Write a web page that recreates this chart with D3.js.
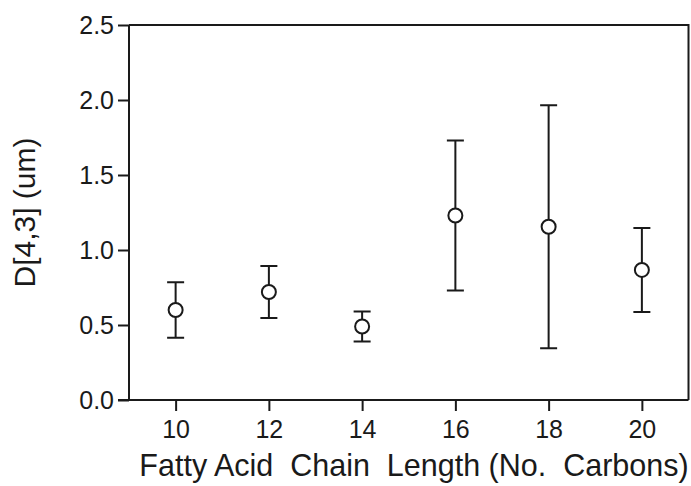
<!DOCTYPE html>
<html>
<head>
<meta charset="utf-8">
<script src="https://cdn.jsdelivr.net/npm/d3@7"></script>
<style>
  html, body { margin: 0; padding: 0; background: #fff; }
  svg { display: block; }
  text { font-family: "Liberation Sans", Arial, sans-serif; fill: #1a1a1a; }
</style>
</head>
<body>
<svg id="chart" width="691" height="486"></svg>
<script>
// Chain length (number of carbons)
const chainLength = [10, 12, 14, 16, 18, 20];
// Mean D[4,3] particle size (um)
const meanSize = [0.60, 0.72, 0.49, 1.23, 1.155, 0.867];
// Error bar half-width (um)
const errSize = [0.185, 0.173, 0.10, 0.50, 0.81, 0.28];
// Axis ticks
const xTicks = [10, 12, 14, 16, 18, 20];
const yTicks = [0.0, 0.5, 1.0, 1.5, 2.0, 2.5];

const data = chainLength.map((c, i) => ({ c, m: meanSize[i], e: errSize[i] }));

const svg = d3.select("#chart");
const ink = "#1a1a1a";
const plotL = 129, plotR = 688.5, plotT = 25, plotB = 400;

const x = d3.scaleLinear().domain([9, 21]).range([plotL, plotR]);
const y = d3.scaleLinear().domain([0, 2.5]).range([plotB, plotT]);

// Frame (top and right edges)
svg.append("path")
  .attr("d", `M${plotL},${plotT}H${plotR}V${plotB}`)
  .attr("fill", "none").attr("stroke", ink).attr("stroke-width", 2);

// Y axis
const yAxis = svg.append("g")
  .attr("transform", `translate(${plotL},0)`)
  .call(d3.axisLeft(y).tickValues(yTicks).tickFormat(d3.format(".1f"))
    .tickSize(11).tickPadding(4).tickSizeOuter(0));

// X axis
const xAxis = svg.append("g")
  .attr("transform", `translate(0,${plotB})`)
  .call(d3.axisBottom(x).tickValues(xTicks).tickFormat(d3.format("d"))
    .tickSize(11).tickPadding(9).tickSizeOuter(0));

[yAxis, xAxis].forEach(g => {
  g.attr("font-size", null).attr("font-family", null);
  g.select(".domain").attr("stroke", ink).attr("stroke-width", 2);
  g.selectAll(".tick line").attr("stroke", ink).attr("stroke-width", 2);
  g.selectAll(".tick text")
    .attr("fill", ink)
    .style("font-family", '"Liberation Sans", Arial, sans-serif')
    .style("font-size", "25px");
});
// Domain lines run the full plot extent
yAxis.select(".domain").attr("d", `M0,${plotB}V${plotT}`);
xAxis.select(".domain").attr("d", `M${plotL - 11},0H${plotR}`);

// Axis titles
svg.append("text")
  .attr("x", 414).attr("y", 476)
  .attr("text-anchor", "middle")
  .style("font-size", "30.5px")
  .style("white-space", "pre")
  .text("Fatty Acid  Chain  Length (No.  Carbons)");

svg.append("text")
  .attr("transform", `translate(35,${(plotT + plotB) / 2}) rotate(-90)`)
  .attr("text-anchor", "middle")
  .style("font-size", "30px")
  .text("D[4,3] (um)");

// Error bars
const capHalf = 8.5;
const bars = svg.append("g").attr("stroke", ink).attr("stroke-width", 2).attr("fill", "none");
bars.selectAll("path")
  .data(data)
  .join("path")
  .attr("d", d => {
    const cx = x(d.c), y1 = y(d.m + d.e), y0 = y(d.m - d.e);
    return `M${cx},${y0}V${y1}M${cx - capHalf},${y1}H${cx + capHalf}M${cx - capHalf},${y0}H${cx + capHalf}`;
  });

// Mean markers
svg.append("g").selectAll("circle")
  .data(data)
  .join("circle")
  .attr("cx", d => x(d.c))
  .attr("cy", d => y(d.m))
  .attr("r", 7)
  .attr("fill", "#fff")
  .attr("stroke", ink)
  .attr("stroke-width", 2);
</script>
</body>
</html>
